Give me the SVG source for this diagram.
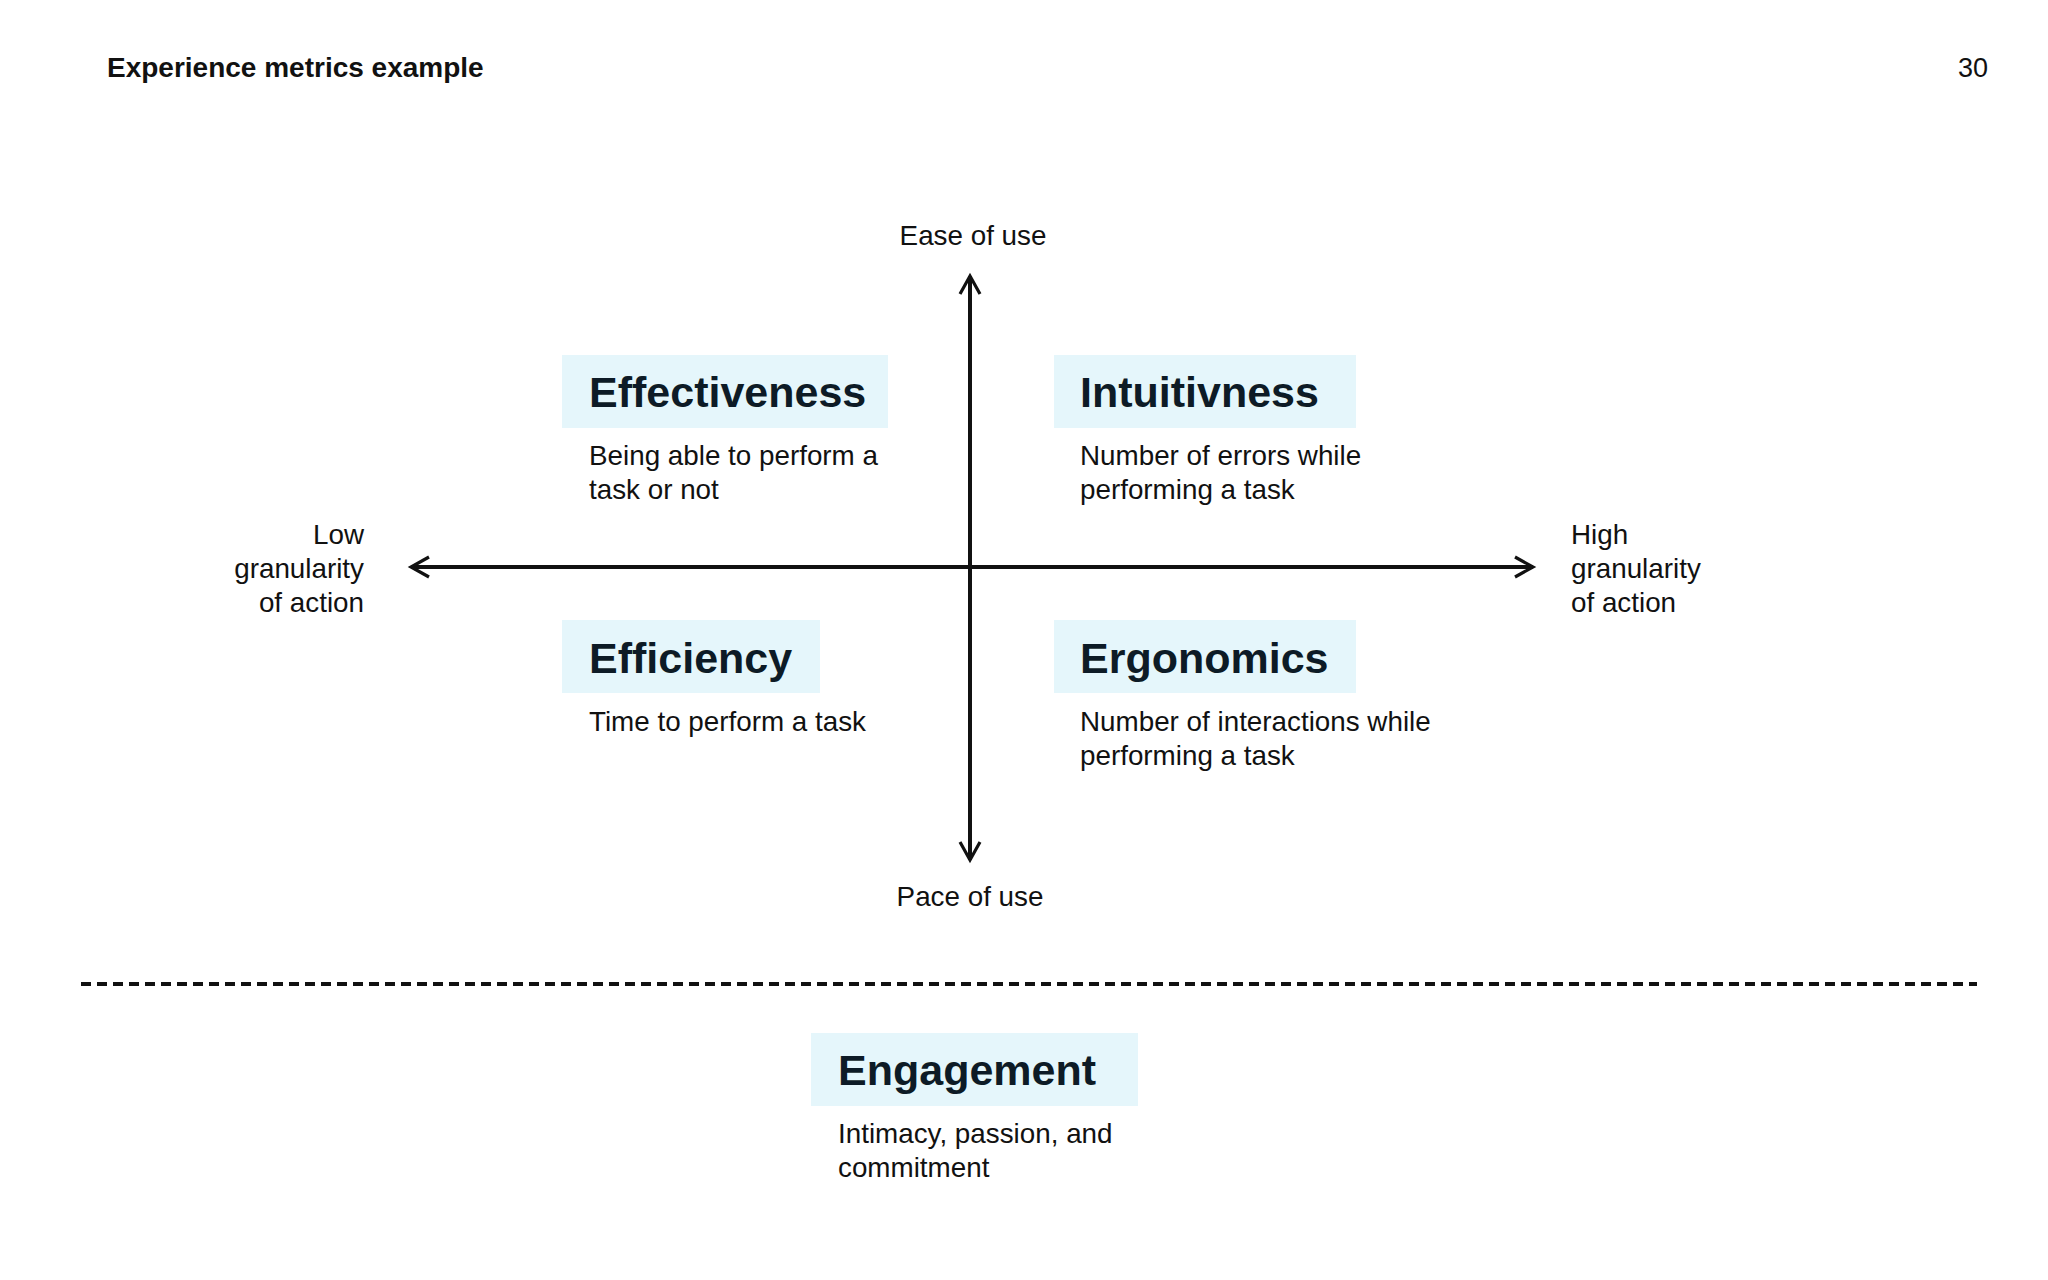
<svg xmlns="http://www.w3.org/2000/svg" width="2048" height="1280" viewBox="0 0 2048 1280">
<style>
text{font-family:"Liberation Sans",Arial,sans-serif;fill:#111}
.t{font-size:27.8px}
.h{font-size:43px;font-weight:bold;fill:#0d1b26}
.box{fill:#e5f6fb}
.ax{stroke:#111;stroke-width:4;fill:none}
</style>
<defs>
<marker id="ar" viewBox="0 0 12 12" refX="10" refY="6" markerWidth="6" markerHeight="6" orient="auto" markerUnits="strokeWidth">
<path d="M1,1 L10,6 L1,11" fill="none" stroke="#111" stroke-width="1.6"/>
</marker>
</defs>
<rect width="2048" height="1280" fill="#fff"/>
<text x="107" y="77" style="font-size:28px;font-weight:bold">Experience metrics example</text>
<text x="1988" y="77" text-anchor="end" style="font-size:27px">30</text>
<g id="connectors">
<line class="ax" x1="970" y1="567" x2="970" y2="276" marker-end="url(#ar)"/>
<line class="ax" x1="970" y1="567" x2="970" y2="860" marker-end="url(#ar)"/>
<line class="ax" x1="970" y1="567" x2="411" y2="567" marker-end="url(#ar)"/>
<line class="ax" x1="970" y1="567" x2="1533" y2="567" marker-end="url(#ar)"/>
<line x1="81" y1="984" x2="1977" y2="984" stroke="#111" stroke-width="4" stroke-dasharray="10 6"/>
</g>
<g id="axis-labels">
<text class="t" x="973" y="245" text-anchor="middle">Ease of use</text>
<text class="t" x="970" y="906" text-anchor="middle">Pace of use</text>
<text class="t" x="364" y="544" text-anchor="end">Low</text>
<text class="t" x="364" y="578" text-anchor="end">granularity</text>
<text class="t" x="364" y="612" text-anchor="end">of action</text>
<text class="t" x="1571" y="544">High</text>
<text class="t" x="1571" y="578">granularity</text>
<text class="t" x="1571" y="612">of action</text>
</g>
<g id="effectiveness">
<rect class="box" x="562" y="355" width="326" height="73"/>
<text class="h" x="589" y="407">Effectiveness</text>
<text class="t" x="589" y="465">Being able to perform a</text>
<text class="t" x="589" y="499">task or not</text>
</g>
<g id="intuitivness">
<rect class="box" x="1054" y="355" width="302" height="73"/>
<text class="h" x="1080" y="407">Intuitivness</text>
<text class="t" x="1080" y="465">Number of errors while</text>
<text class="t" x="1080" y="499">performing a task</text>
</g>
<g id="efficiency">
<rect class="box" x="562" y="620" width="258" height="73"/>
<text class="h" x="589" y="673">Efficiency</text>
<text class="t" x="589" y="731">Time to perform a task</text>
</g>
<g id="ergonomics">
<rect class="box" x="1054" y="620" width="302" height="73"/>
<text class="h" x="1080" y="673">Ergonomics</text>
<text class="t" x="1080" y="731">Number of interactions while</text>
<text class="t" x="1080" y="765">performing a task</text>
</g>
<g id="engagement">
<rect class="box" x="811" y="1033" width="327" height="73"/>
<text class="h" x="838" y="1085">Engagement</text>
<text class="t" x="838" y="1143">Intimacy, passion, and</text>
<text class="t" x="838" y="1177">commitment</text>
</g>
</svg>
